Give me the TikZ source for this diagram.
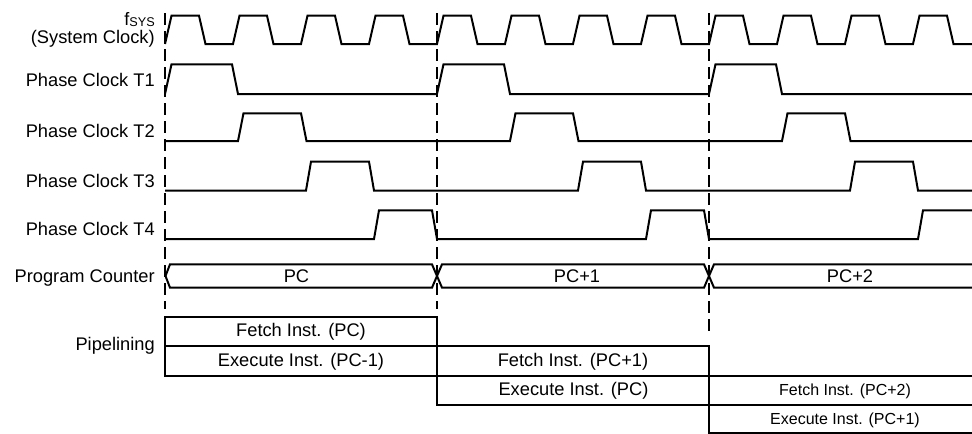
\documentclass[tikz,border=0pt]{standalone}
\usepackage{fontspec}
\setmainfont{Liberation Sans}
\begin{document}
\begin{tikzpicture}[x=0.75pt,y=-0.75pt,
  wave/.style={line width=1.5pt, line join=miter},
  guide/.style={line width=1.5pt, dash pattern=on 9pt off 4.5pt},
  lbl/.style={anchor=base east, inner sep=0pt, font=\fontsize{13.7}{16}\selectfont},
  txt/.style={anchor=base, inner sep=0pt, font=\fontsize{13.7}{16}\selectfont},
  stxt/.style={anchor=base, inner sep=0pt, font=\fontsize{12}{14}\selectfont},
  pbox/.style={line width=1.5pt}]
\useasboundingbox (0,0) rectangle (972,433);
\begin{scope}
\clip (0,0) rectangle (972,433);
% guide lines
\draw[guide] (165,13) -- (165,309);
\draw[guide] (437,13) -- (437,309);
\draw[guide] (709,13) -- (709,334);
% system clock
\draw[wave] (165,44) \foreach \s in {165,233,...,913} { -- (\s+6.5,15.7) -- (\s+34,15.7) -- (\s+40.5,44) -- (\s+68,44) };
% phase clocks
\draw[wave] (165,94) \foreach \x in {165,437,709} { -- (\x,94) -- (\x+6.5,64.3) -- (\x+67,64.3) -- (\x+73,94) } -- (980,94);
\draw[wave] (165,141) \foreach \x in {165,437,709} { -- (\x+73,141) -- (\x+78.5,113.3) -- (\x+136,113.3) -- (\x+141.5,141) } -- (980,141);
\draw[wave] (165,190.5) \foreach \x in {165,437,709} { -- (\x+141,190.5) -- (\x+146,161.7) -- (\x+204,161.7) -- (\x+209,190.5) } -- (980,190.5);
\draw[wave] (165,239) \foreach \x in {165,437,709} { -- (\x+209,239) -- (\x+214,210.3) -- (\x+267,210.3) -- (\x+272,239) } -- (980,239);
% program counter bus
\draw[wave] (985,264.3) -- (714,264.3) -- (704,287.7) -- (442,287.7) -- (432,264.3) -- (170,264.3)
  -- (165.5,276) -- (170,287.7) -- (432,287.7) -- (442,264.3) -- (704,264.3) -- (714,287.7) -- (985,287.7);
\node[txt] (pc0) at (296.5,282) {PC};
\node[txt] (pc1) at (577,282) {PC+1};
\node[txt] (pc2) at (850,282) {PC+2};
% pipelining boxes
\draw[pbox] (165,317) rectangle (437,346);
\draw[pbox] (165,346) rectangle (437,376);
\draw[pbox] (437,346) rectangle (709,376);
\draw[pbox] (437,376) rectangle (709,405);
\draw[pbox] (709,376) rectangle (990,405);
\draw[pbox] (709,405) rectangle (990,432.8);
\node[txt] (f0) at (301,336.5) {Fetch Inst. (PC)};
\node[txt] (e0) at (301,366.3) {Execute Inst. (PC-1)};
\node[txt] (f1) at (573,366) {Fetch Inst. (PC+1)};
\node[txt] (e1) at (573.5,395.5) {Execute Inst. (PC)};
\node[stxt] (f2) at (845,395) {Fetch Inst. (PC+2)};
\node[stxt] (e2) at (845,424) {Execute Inst. (PC+1)};
\end{scope}
% row labels
\node[lbl] (lfsys) at (155,25) {{\fontsize{13.5}{15}\selectfont f}\raisebox{-1pt}{\fontsize{9.5}{11}\selectfont SYS}};
\node[lbl] (lsys) at (155,43.5) {(System Clock)};
\node[lbl] (lt1) at (155,86.5) {Phase Clock T1};
\node[lbl] (lt2) at (155,137) {Phase Clock T2};
\node[lbl] (lt3) at (155,187.5) {Phase Clock T3};
\node[lbl] (lt4) at (155,235) {Phase Clock T4};
\node[lbl] (lpc) at (155,282.7) {Program Counter};
\node[lbl] (lpipe) at (155,350.7) {Pipelining};
\end{tikzpicture}
\end{document}
